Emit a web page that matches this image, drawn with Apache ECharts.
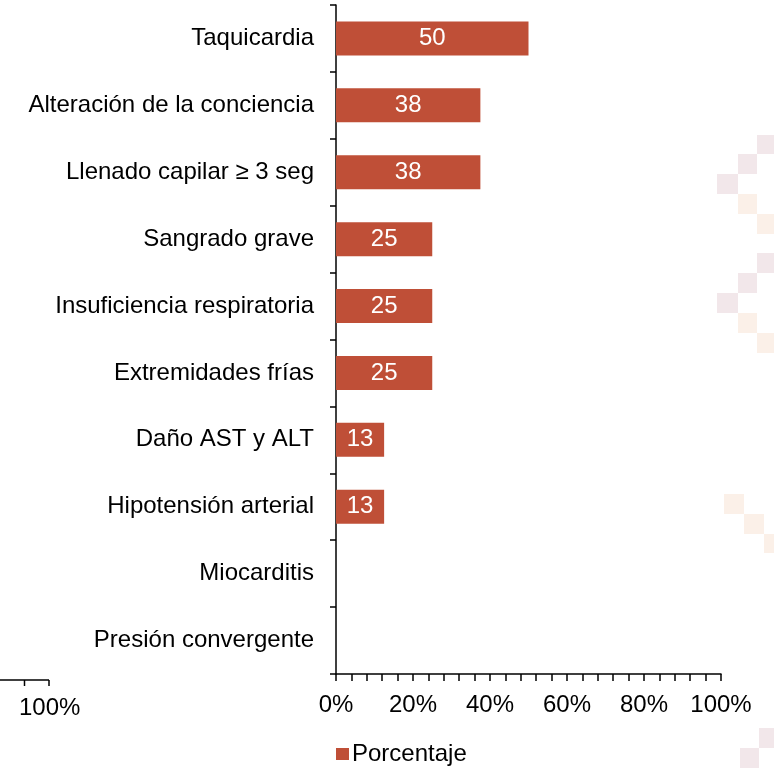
<!DOCTYPE html>
<html>
<head>
<meta charset="utf-8">
<script src="https://cdn.jsdelivr.net/npm/echarts@6/dist/echarts.min.js"></script>
<style>
html,body{margin:0;padding:0;background:#fff;}
#chart{width:774px;height:768px;}
</style>
</head>
<body>
<div id="chart"></div>
<script>
// Categories listed bottom-to-top (ECharts category y axis starts at bottom)
var categories = [
  'Presión convergente',
  'Miocarditis',
  'Hipotensión arterial',
  'Daño AST y ALT',
  'Extremidades frías',
  'Insuficiencia respiratoria',
  'Sangrado grave',
  'Llenado capilar ≥ 3 seg',
  'Alteración de la conciencia',
  'Taquicardia'
];
var porcentaje = [0, 0, 12.5, 12.5, 25, 25, 25, 37.5, 37.5, 50];
var seriesName = 'Porcentaje';
var xTicks = [0, 20, 40, 60, 80, 100];

var FONT = 'Liberation Sans, Arial, sans-serif';
var FS = 24;
var BAR = '#BF4F37';
var PINK = '#F2E7EA';
var CREAM = '#FBF0E8';

function sq(x, y, w, h, c) {
  return {type: 'rect', z: -10, silent: true, shape: {x: x, y: y, width: w, height: h}, style: {fill: c}};
}

var chart = echarts.init(document.getElementById('chart'), null, {renderer: 'canvas'});
chart.setOption({
  backgroundColor: '#ffffff',
  animation: false,
  textStyle: {fontFamily: FONT},
  graphic: [
    sq(757, 135, 17, 19, PINK), sq(738, 154, 19, 20, PINK), sq(717, 174, 21, 20, PINK),
    sq(738, 194, 19, 20, CREAM), sq(757, 214, 17, 20, CREAM),
    sq(757, 253, 17, 20, PINK), sq(738, 273, 19, 20, PINK), sq(717, 293, 21, 20, PINK),
    sq(738, 313, 19, 20, CREAM), sq(757, 333, 17, 20, CREAM),
    sq(724, 494, 20, 20, CREAM), sq(744, 514, 20, 20, CREAM), sq(764, 534, 10, 19, CREAM),
    sq(759, 728, 15, 20, PINK), sq(740, 748, 19, 20, PINK),
    // fragment of a neighbouring chart at bottom-left
    {type: 'line', shape: {x1: 0, y1: 680, x2: 49, y2: 680}, style: {stroke: '#000', lineWidth: 1.5}},
    {type: 'line', shape: {x1: 24.5, y1: 680, x2: 24.5, y2: 686}, style: {stroke: '#000', lineWidth: 1.5}},
    {type: 'line', shape: {x1: 49, y1: 680, x2: 49, y2: 686}, style: {stroke: '#000', lineWidth: 1.5}},
    {type: 'text', left: 19, top: 696, style: {text: '100%', fill: '#000', font: FS + 'px ' + FONT}}
  ],
  legend: {
    data: [seriesName],
    left: 331,
    top: 737,
    icon: 'rect',
    itemWidth: 13,
    itemHeight: 12,
    itemGap: 4,
    textStyle: {fontSize: FS, color: '#000', fontFamily: FONT, padding: [0, 0, 0, -2]}
  },
  grid: {left: 336, right: 53, top: 5, bottom: 94, containLabel: false},
  xAxis: {
    type: 'value',
    min: 0,
    max: 100,
    interval: 20,
    axisLine: {show: true, lineStyle: {color: '#000', width: 1.5}},
    axisTick: {show: true, length: 7, lineStyle: {color: '#000', width: 1.5}},
    minorTick: {show: true, splitNumber: 5, length: 7, lineStyle: {color: '#000', width: 1.5}},
    splitLine: {show: false},
    axisLabel: {
      margin: 19,
      fontSize: FS,
      color: '#000',
      fontFamily: FONT,
      formatter: function (v) { return xTicks.indexOf(v) >= 0 ? v + '%' : ''; }
    }
  },
  yAxis: {
    type: 'category',
    data: categories,
    axisLine: {show: true, lineStyle: {color: '#000', width: 1.5}},
    axisTick: {show: true, length: 6, lineStyle: {color: '#000', width: 1.5}},
    axisLabel: {margin: 22, fontSize: FS, color: '#000', fontFamily: FONT}
  },
  series: [{
    name: seriesName,
    type: 'bar',
    data: porcentaje,
    barWidth: 34,
    itemStyle: {color: BAR, borderWidth: 0},
    label: {
      show: true,
      position: 'inside',
      color: '#fff',
      fontSize: FS,
      fontFamily: FONT,
      formatter: function (p) { return p.value > 0 ? String(Math.round(p.value)) : ''; }
    }
  }]
});
</script>
</body>
</html>
